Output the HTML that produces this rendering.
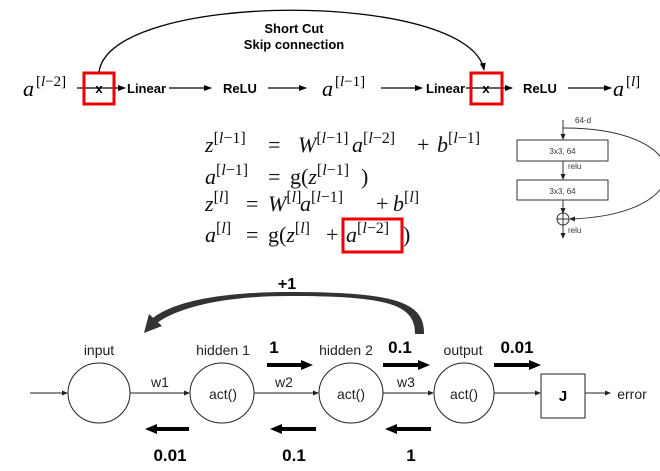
<!DOCTYPE html>
<html><head><meta charset="utf-8"><style>
html,body{margin:0;padding:0;background:#fff;width:660px;height:471px;overflow:hidden}
svg{display:block}
.s{font-family:"Liberation Sans",Arial,sans-serif}
.m{font-family:"Liberation Serif","DejaVu Serif",serif;font-style:italic}
.r{font-family:"Liberation Serif","DejaVu Serif",serif}
.n{font-style:normal}
</style></head><body>
<svg width="660" height="471" viewBox="0 0 660 471" xmlns="http://www.w3.org/2000/svg">
<defs>
<marker id="a" markerWidth="8" markerHeight="8" refX="7" refY="4" orient="auto" markerUnits="userSpaceOnUse"><path d="M0,1 L8,4 L0,7 z" fill="#000"/></marker>
<marker id="b" markerWidth="6" markerHeight="6" refX="5" refY="3" orient="auto" markerUnits="userSpaceOnUse"><path d="M0,0.5 L6,3 L0,5.5 z" fill="#222"/></marker>
<marker id="t" markerWidth="12" markerHeight="10" refX="4" refY="5" orient="auto" markerUnits="userSpaceOnUse"><path d="M0,0 L12,5 L0,10 z" fill="#000"/></marker>
</defs>
<!-- TOP -->
<path d="M99,72 C110,-10 470,-10 484,70" fill="none" stroke="#000" stroke-width="1.3" marker-end="url(#a)"/>
<text x="294" y="33" class="s" font-size="13" font-weight="bold" text-anchor="middle">Short Cut</text>
<text x="294" y="49" class="s" font-size="13" font-weight="bold" text-anchor="middle">Skip connection</text>
<g font-size="13" class="s" font-weight="bold">
<text x="23" y="96" class="m" font-size="22" font-weight="normal">a</text>
<text x="36" y="86" class="r" font-size="15" font-weight="normal">[<tspan font-style="italic">l</tspan>−2]</text>
<line x1="77" y1="88" x2="125" y2="88" stroke="#000" stroke-width="1.2" marker-end="url(#a)"/>
<text x="99" y="93" text-anchor="middle">x</text>
<rect x="84" y="73" width="30" height="31" fill="none" stroke="#e00" stroke-width="3"/>
<text x="127" y="93">Linear</text>
<line x1="169" y1="88" x2="211" y2="88" stroke="#000" stroke-width="1.2" marker-end="url(#a)"/>
<text x="223" y="93">ReLU</text>
<line x1="268" y1="88" x2="306" y2="88" stroke="#000" stroke-width="1.2" marker-end="url(#a)"/>
<text x="322" y="96" class="m" font-size="22" font-weight="normal">a</text>
<text x="335" y="86" class="r" font-size="15" font-weight="normal">[<tspan font-style="italic">l</tspan>−1]</text>
<line x1="381" y1="88" x2="422" y2="88" stroke="#000" stroke-width="1.2" marker-end="url(#a)"/>
<text x="426" y="93">Linear</text>
<line x1="466" y1="88" x2="512" y2="88" stroke="#000" stroke-width="1.2" marker-end="url(#a)"/>
<text x="486" y="93" text-anchor="middle">x</text>
<rect x="471" y="73" width="31" height="31" fill="none" stroke="#e00" stroke-width="3"/>
<text x="523" y="93">ReLU</text>
<line x1="568" y1="88" x2="611" y2="88" stroke="#000" stroke-width="1.2" marker-end="url(#a)"/>
<text x="613" y="96" class="m" font-size="22" font-weight="normal">a</text>
<text x="626" y="86" class="r" font-size="15" font-weight="normal">[<tspan font-style="italic">l</tspan>]</text>
</g>
<!-- EQUATIONS -->
<g class="m" font-size="22" fill="#111">
<text y="152"><tspan x="205">z</tspan><tspan class="r n" font-size="16" dy="-9">[<tspan font-style="italic">l</tspan>−1]</tspan><tspan class="n" x="268" dy="9">=</tspan><tspan x="298">W</tspan><tspan class="r n" font-size="16" dy="-9">[<tspan font-style="italic">l</tspan>−1]</tspan><tspan x="352" dy="9">a</tspan><tspan class="r n" font-size="16" dy="-9">[<tspan font-style="italic">l</tspan>−2]</tspan><tspan class="n" x="417" dy="9">+</tspan><tspan x="437">b</tspan><tspan class="r n" font-size="16" dy="-9">[<tspan font-style="italic">l</tspan>−1]</tspan></text>
<text y="184"><tspan x="205">a</tspan><tspan class="r n" font-size="16" dy="-9">[<tspan font-style="italic">l</tspan>−1]</tspan><tspan class="n" x="268" dy="9">=</tspan><tspan class="n" x="290">g(</tspan><tspan>z</tspan><tspan class="r n" font-size="16" dy="-9">[<tspan font-style="italic">l</tspan>−1]</tspan><tspan class="n" x="361" dy="9">)</tspan></text>
<text y="211"><tspan x="205">z</tspan><tspan class="r n" font-size="16" dy="-9">[<tspan font-style="italic">l</tspan>]</tspan><tspan class="n" x="246" dy="9">=</tspan><tspan x="268">W</tspan><tspan class="r n" font-size="16" dy="-9">[<tspan font-style="italic">l</tspan>]</tspan><tspan x="300" dy="9">a</tspan><tspan class="r n" font-size="16" dy="-9">[<tspan font-style="italic">l</tspan>−1]</tspan><tspan class="n" x="376" dy="9">+</tspan><tspan x="393">b</tspan><tspan class="r n" font-size="16" dy="-9">[<tspan font-style="italic">l</tspan>]</tspan></text>
<text y="242"><tspan x="205">a</tspan><tspan class="r n" font-size="16" dy="-9">[<tspan font-style="italic">l</tspan>]</tspan><tspan class="n" x="246" dy="9">=</tspan><tspan class="n" x="268">g(</tspan><tspan>z</tspan><tspan class="r n" font-size="16" dy="-9">[<tspan font-style="italic">l</tspan>]</tspan><tspan class="n" x="326" dy="9">+</tspan><tspan x="346">a</tspan><tspan class="r n" font-size="16" dy="-9">[<tspan font-style="italic">l</tspan>−2]</tspan><tspan class="n" x="403" dy="9">)</tspan></text>
</g>
<rect x="343" y="219" width="59" height="33" fill="none" stroke="#e00" stroke-width="3"/>
<!-- RESNET BLOCK -->
<g stroke="#333" stroke-width="1" fill="none">
<line x1="563" y1="120" x2="563" y2="139" marker-end="url(#b)"/>
<rect x="517" y="140" width="91" height="21"/>
<line x1="563" y1="161" x2="563" y2="179" marker-end="url(#b)"/>
<rect x="517" y="180" width="91" height="20"/>
<line x1="563" y1="200" x2="563" y2="213" marker-end="url(#b)"/>
<circle cx="563" cy="219" r="6"/>
<line x1="557" y1="219" x2="569" y2="219"/><line x1="563" y1="213" x2="563" y2="225"/>
<line x1="563" y1="225" x2="563" y2="238" marker-end="url(#b)"/>
<path d="M563,128 C700,128 700,215 570,219" marker-end="url(#b)"/>
</g>
<g class="s" font-size="8" fill="#333">
<text x="575" y="123">64-d</text>
<text x="562.5" y="154" text-anchor="middle">3x3, 64</text>
<text x="562.5" y="194" text-anchor="middle">3x3, 64</text>
<text x="568" y="169">relu</text>
<text x="568" y="233">relu</text>
</g>
<!-- BOTTOM -->
<path d="M415,334 C415,305 390,296 290,296 C215,296 175,310 157,323 L153,318 C172,303 215,292 290,292 C395,292 425,302 424,334 z" fill="#333"/>
<path d="M144,333 L149,314 L162,326 z" fill="#333"/>
<text x="287" y="289" class="s" font-size="16" font-weight="bold" text-anchor="middle">+1</text>
<g class="s" font-size="14" fill="#222" text-anchor="middle">
<text x="99" y="355">input</text><text x="223" y="355">hidden 1</text><text x="346" y="355">hidden 2</text><text x="463" y="355">output</text>
<text x="160" y="387">w1</text><text x="284" y="387">w2</text><text x="406" y="387">w3</text>
<text x="223" y="399">act()</text><text x="351" y="399">act()</text><text x="464" y="399">act()</text>
<text x="632" y="399">error</text>
</g>
<g stroke="#222" stroke-width="1" fill="none">
<ellipse cx="99" cy="393" rx="31" ry="30"/>
<ellipse cx="222" cy="393" rx="32" ry="30"/>
<ellipse cx="351" cy="393" rx="32" ry="30"/>
<ellipse cx="464" cy="393" rx="30" ry="30"/>
<rect x="541" y="374" width="44" height="44"/>
<line x1="30" y1="393" x2="67" y2="393" marker-end="url(#b)"/>
<line x1="130" y1="393" x2="189" y2="393" marker-end="url(#b)"/>
<line x1="254" y1="393" x2="318" y2="393" marker-end="url(#b)"/>
<line x1="383" y1="393" x2="433" y2="393" marker-end="url(#b)"/>
<line x1="494" y1="393" x2="540" y2="393" marker-end="url(#b)"/>
<line x1="585" y1="393" x2="610" y2="393" marker-end="url(#b)"/>
</g>
<text x="563" y="401" class="s" font-size="15" font-weight="bold" text-anchor="middle">J</text>
<g stroke="#000" stroke-width="4">
<line x1="267" y1="365" x2="305" y2="365" marker-end="url(#t)"/>
<line x1="383" y1="365" x2="422" y2="365" marker-end="url(#t)"/>
<line x1="494" y1="365" x2="533" y2="365" marker-end="url(#t)"/>
<line x1="189" y1="429" x2="153" y2="429" marker-end="url(#t)"/>
<line x1="316" y1="429" x2="278" y2="429" marker-end="url(#t)"/>
<line x1="431" y1="429" x2="393" y2="429" marker-end="url(#t)"/>
</g>
<g class="s" font-size="17" font-weight="bold" text-anchor="middle">
<text x="274" y="353">1</text><text x="400" y="353">0.1</text><text x="517" y="353">0.01</text>
<text x="170" y="461">0.01</text><text x="294" y="461">0.1</text><text x="411" y="461">1</text>
</g>
</svg>
</body></html>
